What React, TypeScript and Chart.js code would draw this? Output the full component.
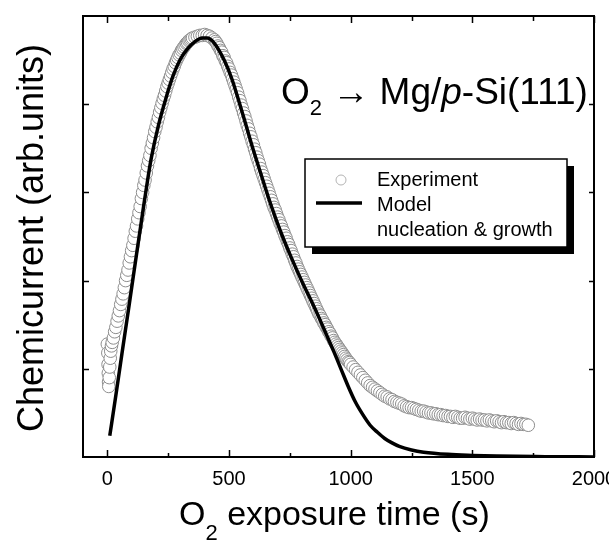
import React, { useEffect, useRef } from "react";
import { Chart, registerables } from "chart.js";

Chart.register(...registerables);

const FONT = '"Liberation Sans", Arial, Helvetica, sans-serif';

const xRange = [-100, 2000];
const yRange = [0, 5];
const xTicks = [0, 500, 1000, 1500, 2000];
const xMinorTicks = [250, 750, 1250, 1750];
const yTicks = [1, 2, 3, 4];

const modelTime = [
  10, 34, 60, 90, 120, 150, 165, 180, 210, 240,
  270, 300, 330, 360, 390, 410, 440, 480, 510, 540,
  570, 600, 630, 660, 690, 720, 750, 780, 810, 840,
  870, 900, 930, 960, 990, 1020, 1050, 1080, 1110, 1140,
  1170, 1200, 1250, 1300, 1400, 1500, 1600, 1800, 2000,
];
const modelSignal = [
  0.24, 0.68, 1.17, 1.73, 2.3, 2.86, 3.13, 3.38, 3.76, 4.06,
  4.32, 4.51, 4.63, 4.71, 4.75, 4.75, 4.69, 4.5, 4.3, 4.04,
  3.76, 3.48, 3.22, 2.96, 2.72, 2.5, 2.3, 2.11, 1.93, 1.76,
  1.58, 1.39, 1.2, 1.0, 0.8, 0.62, 0.48, 0.36, 0.28, 0.21,
  0.16, 0.12, 0.08, 0.055, 0.03, 0.018, 0.01, 0.004, 0.001,
];

const expTime = [
  0, 2, 3, 4, 5, 6, 8, 10, 12, 14, 17,
  20, 25, 30, 35, 40, 45, 50, 55, 60, 65,
  70, 75, 80, 85, 90, 95, 100, 105, 110, 115,
  120, 125, 130, 135, 140, 145, 150, 155, 160, 165,
  170, 175, 180, 185, 190, 195, 200, 205, 210, 215,
  220, 225, 230, 235, 240, 245, 250, 255, 260, 265,
  270, 275, 280, 285, 290, 295, 300, 305, 310, 315,
  320, 325, 330, 335, 340, 345,
  350, 360, 370, 380, 390, 400, 410, 420, 430, 440,
  445, 450, 455, 460, 465, 470, 475, 480, 485, 490,
  495, 500, 505, 510, 515, 520, 525, 530, 535, 540,
  545, 550, 555, 560, 565, 570, 575, 580, 585, 590,
  595, 600, 605, 610, 615, 620, 625, 630, 635, 640,
  645, 650, 655, 660, 665, 670, 675, 680, 685, 690,
  695, 700, 705, 710, 715, 720, 725, 730, 735, 740,
  745, 750, 755, 760, 765, 770, 775, 780, 785, 790,
  795, 800, 805, 810, 815, 820, 825, 830, 835, 840,
  845, 850, 855, 860, 865, 870, 875, 880, 885, 890,
  895, 900, 905, 910, 915, 920, 925, 930, 935, 940,
  945, 950, 955, 960, 965, 970, 975, 980, 985, 990,
  995, 1000,
  1010, 1020, 1030, 1040, 1050, 1060, 1070, 1080, 1090, 1100,
  1110, 1120, 1130, 1140, 1150, 1160, 1170, 1180, 1190, 1200,
  1210, 1220, 1230, 1240, 1250, 1260, 1270, 1280, 1290, 1300,
  1310, 1320, 1330, 1340, 1350, 1360, 1370, 1380, 1390, 1400,
  1410, 1420, 1430, 1440, 1450, 1460, 1470, 1480, 1490, 1500,
  1510, 1520, 1530, 1540, 1550, 1560, 1570, 1580, 1590, 1600,
  1610, 1620, 1630, 1640, 1650, 1660, 1670, 1680, 1690, 1700,
  1710, 1720, 1730,
];
const expSignal = [
  1.28, 1.18, 1.05, 0.95, 0.85, 0.8, 0.9, 1.02, 1.12, 1.2, 1.26,
  1.3, 1.35, 1.42, 1.47, 1.54, 1.6, 1.66, 1.73, 1.79, 1.85,
  1.92, 2.0, 2.06, 2.12, 2.2, 2.27, 2.34, 2.4, 2.48, 2.56,
  2.62, 2.7, 2.77, 2.84, 2.93, 3.0, 3.08, 3.14, 3.22, 3.3,
  3.36, 3.42, 3.5, 3.56, 3.62, 3.69, 3.74, 3.8, 3.85, 3.91,
  3.96, 4.01, 4.06, 4.1, 4.15, 4.2, 4.24, 4.28, 4.32, 4.36,
  4.4, 4.43, 4.47, 4.5, 4.53, 4.56, 4.58, 4.61, 4.63, 4.65,
  4.67, 4.69, 4.7, 4.72, 4.73, 4.74,
  4.75, 4.76, 4.77, 4.78, 4.78, 4.79, 4.78, 4.77, 4.75, 4.73,
  4.71, 4.69, 4.66, 4.64, 4.61, 4.59, 4.55, 4.53, 4.49, 4.47,
  4.43, 4.4, 4.36, 4.33, 4.29, 4.25, 4.21, 4.17, 4.13, 4.08,
  4.04, 3.99, 3.95, 3.9, 3.86, 3.81, 3.76, 3.72, 3.67, 3.63,
  3.58, 3.54, 3.49, 3.45, 3.4, 3.36, 3.32, 3.27, 3.23, 3.19,
  3.15, 3.11, 3.07, 3.03, 2.99, 2.95, 2.91, 2.87, 2.83, 2.8,
  2.76, 2.72, 2.69, 2.65, 2.62, 2.58, 2.55, 2.51, 2.48, 2.44,
  2.41, 2.37, 2.34, 2.3, 2.27, 2.23, 2.2, 2.16, 2.13, 2.1,
  2.07, 2.04, 2.01, 1.98, 1.95, 1.92, 1.89, 1.86, 1.83, 1.8,
  1.77, 1.74, 1.71, 1.68, 1.65, 1.62, 1.6, 1.57, 1.55, 1.52,
  1.5, 1.47, 1.45, 1.42, 1.4, 1.37, 1.35, 1.32, 1.3, 1.28,
  1.26, 1.24, 1.22, 1.2, 1.18, 1.16, 1.14, 1.12, 1.1, 1.08,
  1.07, 1.05,
  1.02, 0.99, 0.96, 0.93, 0.9, 0.87, 0.84, 0.81, 0.79, 0.77,
  0.75, 0.73, 0.71, 0.69, 0.68, 0.66, 0.65, 0.63, 0.62, 0.61,
  0.6, 0.58, 0.57, 0.56, 0.56, 0.55, 0.54, 0.53, 0.52, 0.52,
  0.51, 0.5, 0.5, 0.49, 0.49, 0.48, 0.48, 0.47, 0.47, 0.46,
  0.46, 0.45, 0.46, 0.45, 0.44, 0.44, 0.45, 0.44, 0.43, 0.44,
  0.43, 0.42, 0.43, 0.42, 0.42, 0.41, 0.42, 0.41, 0.4, 0.41,
  0.4, 0.39, 0.4, 0.39, 0.39, 0.38, 0.39, 0.38, 0.37, 0.38,
  0.37, 0.37, 0.36,
];

const legendLabels = ["Experiment", "Model", "nucleation & growth"];

function drawRuns(
  ctx: CanvasRenderingContext2D,
  x: number,
  y: number,
  runs: { t: string; size: number; dy?: number; italic?: boolean }[]
) {
  let cx = x;
  for (const r of runs) {
    ctx.font = `${r.italic ? "italic " : ""}${r.size}px ${FONT}`;
    ctx.fillText(r.t, cx, y + (r.dy || 0));
    cx += ctx.measureText(r.t).width;
  }
}

const decorPlugin = {
  id: "decor",
  afterDraw(chart: any) {
    const { ctx, scales } = chart;
    const xs = scales.x;
    const ys = scales.y;
    const L = Math.round(xs.getPixelForValue(xRange[0]));
    const R = Math.round(xs.getPixelForValue(xRange[1]));
    const T = Math.round(ys.getPixelForValue(yRange[1]));
    const B = Math.round(ys.getPixelForValue(yRange[0]));
    ctx.save();

    // frame: four separate filled bars (2 px thick)
    ctx.fillStyle = "#000";
    ctx.fillRect(L - 1, T - 1, R - L + 2, 2);
    ctx.fillRect(L - 1, B - 1, R - L + 2, 2);
    ctx.fillRect(L - 1, T - 1, 2, B - T + 2);
    ctx.fillRect(R - 1, T - 1, 2, B - T + 2);

    // inward ticks
    ctx.strokeStyle = "#000";
    ctx.lineWidth = 1.5;
    ctx.beginPath();
    for (const v of xTicks) {
      const px = Math.round(xs.getPixelForValue(v)) + 0.5;
      ctx.moveTo(px, B);
      ctx.lineTo(px, B - 7);
      ctx.moveTo(px, T);
      ctx.lineTo(px, T + 7);
    }
    for (const v of xMinorTicks) {
      const px = Math.round(xs.getPixelForValue(v)) + 0.5;
      ctx.moveTo(px, B);
      ctx.lineTo(px, B - 4);
      ctx.moveTo(px, T);
      ctx.lineTo(px, T + 5);
    }
    for (const v of yTicks) {
      const py = Math.round(ys.getPixelForValue(v)) + 0.5;
      ctx.moveTo(L, py);
      ctx.lineTo(L + 6, py);
      ctx.moveTo(R, py);
      ctx.lineTo(R - 5, py);
    }
    ctx.stroke();

    ctx.fillStyle = "#000";
    ctx.textAlign = "left";
    ctx.textBaseline = "alphabetic";

    ctx.save();
    ctx.translate(43, 238);
    ctx.rotate(-Math.PI / 2);
    ctx.textAlign = "center";
    ctx.font = `36px ${FONT}`;
    ctx.fillText("Chemicurrent (arb.units)", 0, 0);
    ctx.restore();

    drawRuns(ctx, 179, 525, [
      { t: "O", size: 34 },
      { t: "2", size: 22, dy: 15 },
      { t: " exposure time (s)", size: 34 },
    ]);

    drawRuns(ctx, 281, 104, [
      { t: "O", size: 37 },
      { t: "2", size: 22, dy: 11 },
      { t: " \u2192 Mg/", size: 37 },
      { t: "p", size: 37, italic: true },
      { t: "-Si(111)", size: 37 },
    ]);

    const lx = 305, ly = 159, lw = 262, lh = 88;
    ctx.fillStyle = "#000";
    ctx.fillRect(lx + 7, ly + 7, lw, lh);
    ctx.fillStyle = "#fff";
    ctx.fillRect(lx, ly, lw, lh);
    ctx.strokeStyle = "#000";
    ctx.lineWidth = 1.5;
    ctx.strokeRect(lx, ly, lw, lh);

    ctx.beginPath();
    ctx.arc(341, 180, 5, 0, Math.PI * 2);
    ctx.strokeStyle = "#b4b4b4";
    ctx.lineWidth = 1;
    ctx.stroke();

    ctx.beginPath();
    ctx.moveTo(316, 203);
    ctx.lineTo(362, 203);
    ctx.strokeStyle = "#000";
    ctx.lineWidth = 3.5;
    ctx.stroke();

    ctx.fillStyle = "#000";
    ctx.font = `20px ${FONT}`;
    ctx.fillText(legendLabels[0], 377, 186);
    ctx.fillText(legendLabels[1], 377, 211);
    ctx.fillText(legendLabels[2], 377, 236);

    ctx.restore();
  },
};

export default function App() {
  const ref = useRef<HTMLCanvasElement | null>(null);

  useEffect(() => {
    if (!ref.current) return;
    const modelPts = modelTime.map((t, i) => ({ x: t, y: modelSignal[i] }));
    const expPts = expTime.map((t, i) => ({ x: t, y: expSignal[i] }));
    const noGrid = { display: false, drawTicks: false, tickLength: 0 };
    const chart = new Chart(ref.current, {
      type: "scatter",
      data: {
        datasets: [
          {
            label: "Model",
            data: modelPts,
            showLine: true,
            borderColor: "#000",
            borderWidth: 3.5,
            pointRadius: 0,
            cubicInterpolationMode: "monotone",
            fill: false,
            order: 1,
          } as any,
          {
            label: "Experiment",
            data: expPts,
            showLine: false,
            pointRadius: 6.3,
            pointBorderWidth: 1,
            pointBorderColor: "#8e8e8e",
            pointBackgroundColor: "#ffffff",
            order: 2,
          } as any,
        ],
      },
      options: {
        responsive: false,
        animation: false,
        events: [],
        layout: { padding: { top: 16, right: 15, left: 0, bottom: 0 } },
        plugins: { legend: { display: false }, tooltip: { enabled: false } },
        scales: {
          x: {
            type: "linear",
            position: "bottom",
            min: xRange[0],
            max: xRange[1],
            afterBuildTicks: (s: any) => {
              s.ticks = xTicks.map((v) => ({ value: v }));
            },
            afterFit: (s: any) => {
              s.height = 87;
              s.paddingLeft = 0;
              s.paddingRight = 0;
            },
            grid: noGrid,
            border: { display: false },
            ticks: {
              color: "#000",
              font: { family: FONT, size: 20 },
              padding: 10,
              maxRotation: 0,
              autoSkip: false,
              callback: (v: any) => String(v),
            },
          },
          y: {
            type: "linear",
            position: "left",
            min: yRange[0],
            max: yRange[1],
            afterFit: (s: any) => {
              s.width = 83;
              s.paddingTop = 0;
              s.paddingBottom = 0;
            },
            grid: noGrid,
            border: { display: false },
            ticks: { display: false },
          },
        },
      } as any,
      plugins: [decorPlugin],
    });
    return () => chart.destroy();
  }, []);

  return (
    <div style={{ position: "absolute", left: 0, top: 0, width: 609, height: 544, background: "#fff" }}>
      <canvas ref={ref} width={609} height={544} style={{ display: "block" }} />
    </div>
  );
}
